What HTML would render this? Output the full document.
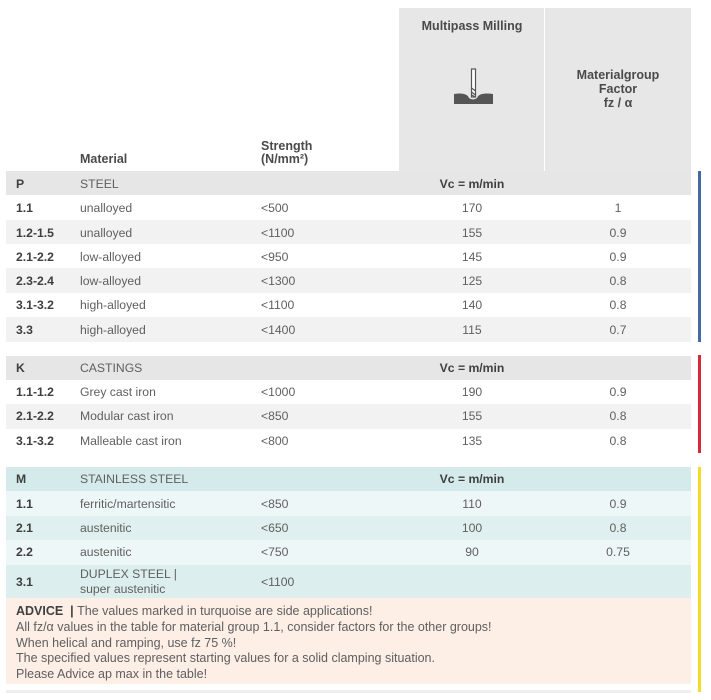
<!DOCTYPE html>
<html>
<head>
<meta charset="utf-8">
<style>
  html,body{margin:0;padding:0;background:#fff;}
  body{width:711px;height:700px;position:relative;overflow:hidden;
    font-family:"Liberation Sans","DejaVu Sans",sans-serif;font-size:12.2px;color:#5f5f5f;}
  .abs{position:absolute;}
  .row{position:absolute;left:6px;width:685px;}
  .t{position:absolute;white-space:nowrap;line-height:14px;}
  .b{font-weight:bold;color:#3f3f3f;}
  .c{transform:translateX(-50%);text-align:center;}
  .hd{font-weight:bold;color:#4a4a4a;font-size:12.5px;}
  .adv{font-size:12.5px;}
</style>
</head>
<body>
<!-- header gray columns -->
<div class="abs" style="left:399px;top:8px;width:145px;height:163px;background:#e7e7e7;"></div>
<div class="abs" style="left:545px;top:8px;width:146px;height:163px;background:#e7e7e7;"></div>

<div class="t hd c" style="left:472px;top:19px;">Multipass Milling</div>
<div class="t hd c" style="left:618px;top:68px;">Materialgroup</div>
<div class="t hd c" style="left:618px;top:82px;">Factor</div>
<div class="t hd c" style="left:618px;top:96px;">fz / α</div>
<div class="t hd" style="left:80px;top:152px;">Material</div>
<div class="t hd" style="left:261px;top:139px;">Strength</div>
<div class="t hd" style="left:261px;top:152px;">(N/mm²)</div>

<!-- icon -->
<svg class="abs" style="left:450px;top:64px;" width="46" height="44" viewBox="0 0 46 44">
  <path d="M4 30 Q10 29 14 30 Q18 31 19 34 Q23 37 27 34 Q28 31 32 30 Q37 29 43 30 L43 40 L4 40 Z" fill="#555"/>
  <rect x="21.5" y="5" width="4" height="28" fill="#fff" stroke="#555" stroke-width="1.2"/>
  <path d="M21.5 24 L25.5 27 M21.5 28 L25.5 31 M22 31 L25 33" stroke="#555" stroke-width="1.2" fill="none"/>
</svg>

<!-- P group -->
<div class="row" style="top:171px;height:24px;background:#e6e6e6;"></div>
<div class="row" style="top:220px;height:24px;background:#f2f2f2;"></div>
<div class="row" style="top:268px;height:25px;background:#f2f2f2;"></div>
<div class="row" style="top:317px;height:25px;background:#f2f2f2;"></div>
<div class="abs" style="left:698px;top:171px;width:3px;height:171px;background:#4569a3;"></div>

<div class="t b" style="left:16px;top:177px;">P</div>
<div class="t" style="left:80px;top:177px;">STEEL</div>
<div class="t b c" style="left:472px;top:177px;">Vc = m/min</div>

<div class="t b" style="left:16px;top:201px;">1.1</div>
<div class="t" style="left:80px;top:201px;">unalloyed</div>
<div class="t" style="left:261px;top:201px;">&lt;500</div>
<div class="t c" style="left:472px;top:201px;">170</div>
<div class="t c" style="left:618px;top:201px;">1</div>

<div class="t b" style="left:16px;top:226px;">1.2-1.5</div>
<div class="t" style="left:80px;top:226px;">unalloyed</div>
<div class="t" style="left:261px;top:226px;">&lt;1100</div>
<div class="t c" style="left:472px;top:226px;">155</div>
<div class="t c" style="left:618px;top:226px;">0.9</div>

<div class="t b" style="left:16px;top:250px;">2.1-2.2</div>
<div class="t" style="left:80px;top:250px;">low-alloyed</div>
<div class="t" style="left:261px;top:250px;">&lt;950</div>
<div class="t c" style="left:472px;top:250px;">145</div>
<div class="t c" style="left:618px;top:250px;">0.9</div>

<div class="t b" style="left:16px;top:274px;">2.3-2.4</div>
<div class="t" style="left:80px;top:274px;">low-alloyed</div>
<div class="t" style="left:261px;top:274px;">&lt;1300</div>
<div class="t c" style="left:472px;top:274px;">125</div>
<div class="t c" style="left:618px;top:274px;">0.8</div>

<div class="t b" style="left:16px;top:298px;">3.1-3.2</div>
<div class="t" style="left:80px;top:298px;">high-alloyed</div>
<div class="t" style="left:261px;top:298px;">&lt;1100</div>
<div class="t c" style="left:472px;top:298px;">140</div>
<div class="t c" style="left:618px;top:298px;">0.8</div>

<div class="t b" style="left:16px;top:323px;">3.3</div>
<div class="t" style="left:80px;top:323px;">high-alloyed</div>
<div class="t" style="left:261px;top:323px;">&lt;1400</div>
<div class="t c" style="left:472px;top:323px;">115</div>
<div class="t c" style="left:618px;top:323px;">0.7</div>

<!-- K group -->
<div class="row" style="top:356px;height:24px;background:#e6e6e6;"></div>
<div class="row" style="top:404px;height:25px;background:#f2f2f2;"></div>
<div class="abs" style="left:698px;top:355px;width:3px;height:98px;background:#d52a3c;"></div>

<div class="t b" style="left:16px;top:361px;">K</div>
<div class="t" style="left:80px;top:361px;">CASTINGS</div>
<div class="t b c" style="left:472px;top:361px;">Vc = m/min</div>

<div class="t b" style="left:16px;top:385px;">1.1-1.2</div>
<div class="t" style="left:80px;top:385px;">Grey cast iron</div>
<div class="t" style="left:261px;top:385px;">&lt;1000</div>
<div class="t c" style="left:472px;top:385px;">190</div>
<div class="t c" style="left:618px;top:385px;">0.9</div>

<div class="t b" style="left:16px;top:409px;">2.1-2.2</div>
<div class="t" style="left:80px;top:409px;">Modular cast iron</div>
<div class="t" style="left:261px;top:409px;">&lt;850</div>
<div class="t c" style="left:472px;top:409px;">155</div>
<div class="t c" style="left:618px;top:409px;">0.8</div>

<div class="t b" style="left:16px;top:434px;">3.1-3.2</div>
<div class="t" style="left:80px;top:434px;">Malleable cast iron</div>
<div class="t" style="left:261px;top:434px;">&lt;800</div>
<div class="t c" style="left:472px;top:434px;">135</div>
<div class="t c" style="left:618px;top:434px;">0.8</div>

<!-- M group -->
<div class="row" style="top:467px;height:24px;background:#d5ebeb;"></div>
<div class="row" style="top:491px;height:25px;background:#eef7f7;"></div>
<div class="row" style="top:516px;height:24px;background:#e0f0f0;"></div>
<div class="row" style="top:540px;height:25px;background:#eef7f7;"></div>
<div class="row" style="top:565px;height:33px;background:#dceeed;"></div>
<div class="row" style="top:598px;height:86px;background:#fdeee6;"></div>
<div class="row" style="top:690px;height:3px;background:#efefef;"></div>
<div class="abs" style="left:698px;top:467px;width:3px;height:225px;background:#f5da2a;"></div>

<div class="t b" style="left:16px;top:472px;">M</div>
<div class="t" style="left:80px;top:472px;">STAINLESS STEEL</div>
<div class="t b c" style="left:472px;top:472px;">Vc = m/min</div>

<div class="t b" style="left:16px;top:497px;">1.1</div>
<div class="t" style="left:80px;top:497px;">ferritic/martensitic</div>
<div class="t" style="left:261px;top:497px;">&lt;850</div>
<div class="t c" style="left:472px;top:497px;">110</div>
<div class="t c" style="left:618px;top:497px;">0.9</div>

<div class="t b" style="left:16px;top:521px;">2.1</div>
<div class="t" style="left:80px;top:521px;">austenitic</div>
<div class="t" style="left:261px;top:521px;">&lt;650</div>
<div class="t c" style="left:472px;top:521px;">100</div>
<div class="t c" style="left:618px;top:521px;">0.8</div>

<div class="t b" style="left:16px;top:545px;">2.2</div>
<div class="t" style="left:80px;top:545px;">austenitic</div>
<div class="t" style="left:261px;top:545px;">&lt;750</div>
<div class="t c" style="left:472px;top:545px;">90</div>
<div class="t c" style="left:618px;top:545px;">0.75</div>

<div class="t b" style="left:16px;top:575px;">3.1</div>
<div class="t" style="left:80px;top:567px;">DUPLEX STEEL |</div>
<div class="t" style="left:80px;top:582px;">super austenitic</div>
<div class="t" style="left:261px;top:575px;">&lt;1100</div>

<!-- advice -->
<div class="t adv" style="left:16px;top:604px;"><span class="b">ADVICE&nbsp; |</span>&nbsp;The values marked in turquoise are side applications!</div>
<div class="t adv" style="left:16px;top:620px;">All fz/α values in the table for material group 1.1, consider factors for the other groups!</div>
<div class="t adv" style="left:16px;top:636px;">When helical and ramping, use fz 75 %!</div>
<div class="t adv" style="left:16px;top:651px;">The specified values represent starting values for a solid clamping situation.</div>
<div class="t adv" style="left:16px;top:667px;">Please Advice ap max in the table!</div>
</body>
</html>
